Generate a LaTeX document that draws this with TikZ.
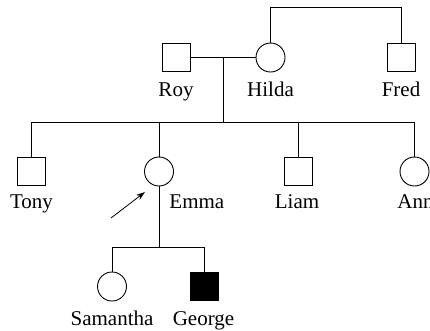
\documentclass[tikz,border=0pt]{standalone}
\usepackage{fontspec}
\setmainfont{Liberation Serif}
\usetikzlibrary{arrows.meta}
\begin{document}
\begin{tikzpicture}[x=1pt,y=-1pt,line width=0.9pt,
  male/.style={draw,rectangle,minimum size=28pt,inner sep=0pt},
  female/.style={draw,circle,minimum size=29pt,inner sep=0pt},
  affected/.style={male,fill=black},
  lbl/.style={anchor=base,font=\fontsize{21}{25}\selectfont,inner sep=0pt}]
\useasboundingbox (0,0) rectangle (430,330);
% generation I/II
\node[male]   (roy)   at (176,57.5) {};
\node[female] (hilda) at (270.5,57.5) {};
\node[male]   (fred)  at (401,57.5) {};
% generation III
\node[male]   (tony)  at (31.5,171) {};
\node[female] (emma)  at (159,171.5) {};
\node[male]   (liam)  at (298,171) {};
\node[female] (ann)   at (414.5,171.5) {};
% generation IV
\node[female]   (sam)    at (112,286.5) {};
\node[affected] (george) at (204,286) {};
% labels
\node[lbl] (roylbl)   at (176,96) {Roy};
\node[lbl] (hildalbl) at (270.5,96) {Hilda};
\node[lbl] (fredlbl)  at (401,96) {Fred};
\node[lbl] (tonylbl)  at (31.5,208) {Tony};
\node[lbl,anchor=base west] (emmalbl) at (169,208) {Emma};
\node[lbl] (liamlbl)  at (297,208) {Liam};
\node[lbl,anchor=base west] (annlbl) at (397,208) {Ann};
\node[lbl] (samlbl)    at (112,325) {Samantha};
\node[lbl] (georgelbl) at (203.5,325) {George};
% connectors
\coordinate (sibtop) at (0,7);
\draw (hilda.north) -- (hilda.north |- sibtop) -| (fred.north);
\draw (roy.east) -- (hilda.west);
\coordinate (mar) at (223,57.5);
\coordinate (sib) at (223,122);
\draw (mar) -- (sib);
\draw (tony.north) |- (ann.north |- sib) -- (ann.north);
\draw (emma.north) -- (emma.north |- sib);
\draw (liam.north) -- (liam.north |- sib);
\coordinate (kids) at (0,247);
\draw (emma.south) -- (emma.south |- kids);
\draw (sam.north) |- (george.north |- kids) -- (george.north);
% proband arrow
\coordinate (arrtail) at (111,218);
\coordinate (arrtip) at (145,192);
\draw[line width=0.8pt,-{Stealth[length=9pt,width=6pt]}] (arrtail) -- (arrtip);
\end{tikzpicture}
\end{document}
